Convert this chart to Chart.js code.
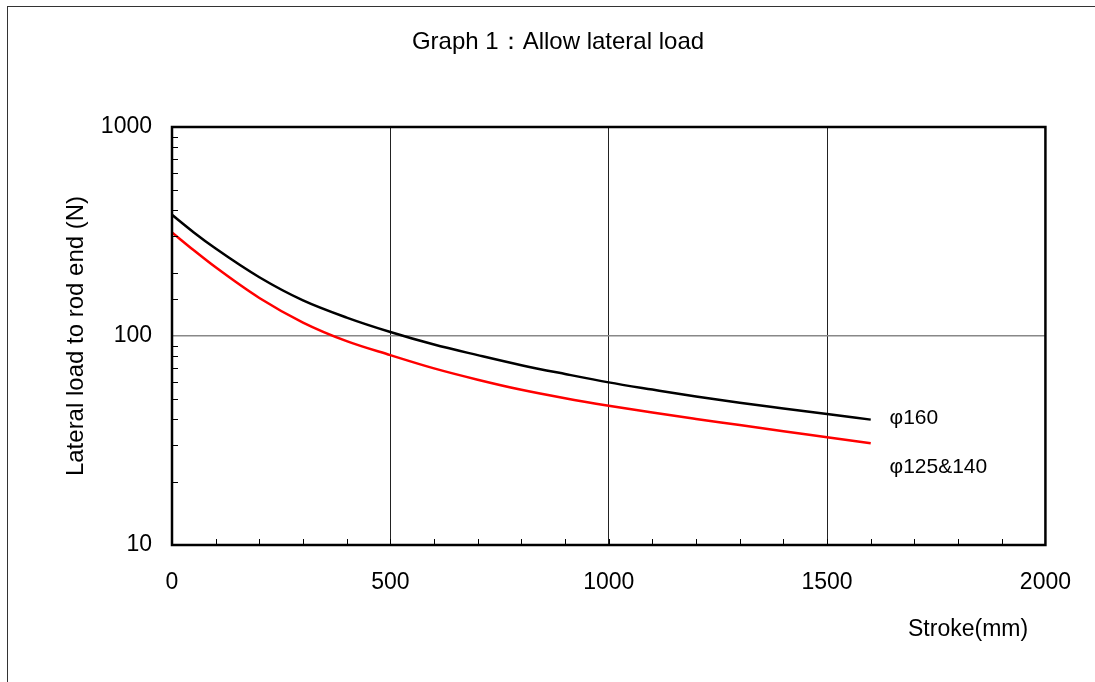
<!DOCTYPE html>
<html>
<head>
<meta charset="utf-8">
<script src="https://cdn.jsdelivr.net/npm/chart.js@4"></script>
<style>
  html, body { margin: 0; padding: 0; background: #fff; }
  #wrap { position: relative; width: 1095px; height: 682px; overflow: hidden; }
  #frame { position: absolute; left: 7px; top: 6px; width: 1200px; height: 800px; border: 1.5px solid #333; }
  canvas { position: absolute; left: 0; top: 0; }
</style>
</head>
<body>
<div id="wrap">
  <div id="frame"></div>
  <canvas id="lateralChart" width="1095" height="682"></canvas>
</div>
<script>
// stroke in mm
const strokes = [0, 50, 100, 200, 300, 400, 500, 600, 700, 800, 900, 1000, 1100, 1200, 1300, 1400, 1500, 1600];
// allowed lateral load (N)
const phi160 = [380, 313, 262, 191, 148, 122.5, 104.5, 91, 81, 72.5, 65.8, 60, 55.4, 51.3, 47.9, 45, 42.3, 39.8];
const phi125_140 = [313, 257, 213, 152, 116, 94.5, 81, 70, 61.8, 55.3, 50.4, 46.4, 43, 40.1, 37.5, 35, 32.8, 30.7];
const seriesNames = ['φ160', 'φ125&140'];
const xTickLabels = [0, 500, 1000, 1500, 2000];
const yTickLabels = [10, 100, 1000];

const FONT = '"Liberation Sans", Arial, sans-serif';

const decor = {
    id: 'decor',
    afterDraw(chart) {
        const { ctx, chartArea: a, scales } = chart;
        ctx.save();
        // inner minor ticks on x axis
        ctx.strokeStyle = '#000';
        ctx.lineWidth = 1;
        scales.x.ticks.forEach(t => {
            if (t.value <= 0 || t.value >= 2000) return;
            const px = Math.round(scales.x.getPixelForValue(t.value)) + 0.5;
            ctx.beginPath();
            ctx.moveTo(px, a.bottom);
            ctx.lineTo(px, a.bottom - 6);
            ctx.stroke();
        });
        // inner minor ticks on y axis
        scales.y.ticks.forEach(t => {
            if (yTickLabels.includes(t.value)) return;
            const py = Math.round(scales.y.getPixelForValue(t.value)) + 0.5;
            ctx.beginPath();
            ctx.moveTo(a.left, py);
            ctx.lineTo(a.left + 6, py);
            ctx.stroke();
        });
        // plot frame
        ctx.lineWidth = 2.5;
        ctx.strokeRect(a.left, a.top, a.right - a.left, a.bottom - a.top);

        // texts
        ctx.fillStyle = '#000';
        ctx.textBaseline = 'middle';
        ctx.textAlign = 'center';
        ctx.font = '24px ' + FONT;
        ctx.fillText('Graph 1：Allow lateral load', 558, 42);

        ctx.font = '23px ' + FONT;
        ctx.textAlign = 'left';
        ctx.fillText('Stroke(mm)', 908, 630);

        ctx.save();
        ctx.translate(76, 336);
        ctx.rotate(-Math.PI / 2);
        ctx.textAlign = 'center';
        ctx.font = '24px ' + FONT;
        ctx.fillText('Lateral load to rod end (N)', 0, 0);
        ctx.restore();

        // series labels next to line ends
        ctx.font = '21px ' + FONT;
        ctx.textAlign = 'left';
        const lx = scales.x.getPixelForValue(1643);
        ctx.fillText(seriesNames[0], lx, scales.y.getPixelForValue(40.5));
        ctx.fillText(seriesNames[1], lx, scales.y.getPixelForValue(23.6));
        ctx.restore();
    }
};

const ctx = document.getElementById('lateralChart').getContext('2d');
new Chart(ctx, {
    type: 'line',
    data: {
        datasets: [{
            label: seriesNames[0],
            data: strokes.map((s, i) => ({ x: s, y: phi160[i] })),
            borderColor: '#000000',
            borderWidth: 2.5,
            pointRadius: 0,
            cubicInterpolationMode: 'monotone',
            fill: false
        }, {
            label: seriesNames[1],
            data: strokes.map((s, i) => ({ x: s, y: phi125_140[i] })),
            borderColor: '#ff0000',
            borderWidth: 2.5,
            pointRadius: 0,
            cubicInterpolationMode: 'monotone',
            fill: false
        }]
    },
    options: {
        responsive: false,
        animation: false,
        layout: { padding: { top: 127, right: 48, bottom: 0, left: 0 } },
        plugins: {
            legend: { display: false },
            tooltip: { enabled: false },
            title: { display: false }
        },
        scales: {
            x: {
                type: 'linear',
                min: 0,
                max: 2000,
                afterFit: function (scale) { scale.height = 137; },
                border: { display: false },
                grid: {
                    drawTicks: false,
                    color: c => (c.tick && c.tick.value % 500 === 0 && c.tick.value > 0 && c.tick.value < 2000) ? '#222' : 'rgba(0,0,0,0)',
                    lineWidth: 1
                },
                ticks: {
                    stepSize: 100,
                    autoSkip: false,
                    maxRotation: 0,
                    padding: 24,
                    color: '#000',
                    font: { family: FONT, size: 23 },
                    callback: v => xTickLabels.includes(v) ? String(v) : ''
                }
            },
            y: {
                type: 'logarithmic',
                min: 10,
                max: 1000,
                afterFit: function (scale) { scale.width = 172; },
                border: { display: false },
                grid: {
                    drawTicks: false,
                    color: c => (c.tick && c.tick.value === 100) ? '#888' : 'rgba(0,0,0,0)',
                    lineWidth: 1.5
                },
                ticks: {
                    autoSkip: false,
                    padding: 20,
                    color: '#000',
                    font: { family: FONT, size: 23 },
                    callback: v => yTickLabels.includes(v) ? String(v) : ''
                }
            }
        }
    },
    plugins: [decor]
});
</script>
</body>
</html>
